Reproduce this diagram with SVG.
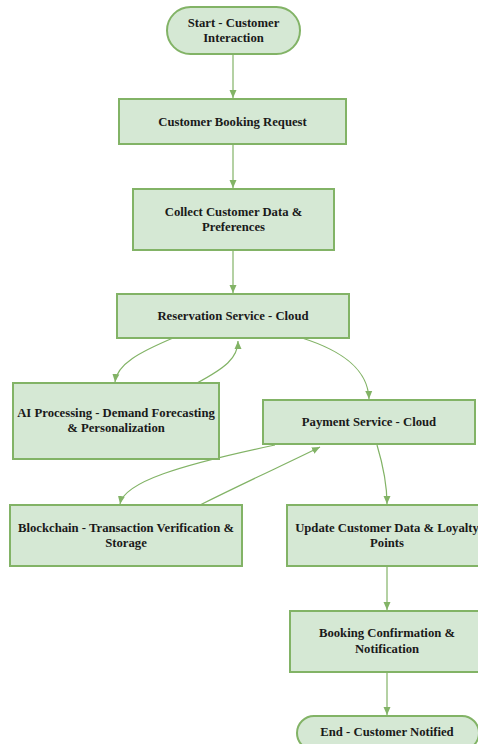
<svg xmlns="http://www.w3.org/2000/svg" width="478" height="744" viewBox="0 0 478 744">
<defs>
<style>
.n{fill:#d5e8d4;stroke:#82b366;stroke-width:2}
.t{font-family:"Liberation Serif","Times New Roman",serif;font-weight:bold;font-size:12.7px;fill:#1a1a1a;text-anchor:middle}
.c{fill:none;stroke:#82b366;stroke-width:1.2}
</style>
<marker id="a" viewBox="0 0 8 8" refX="8" refY="4" markerWidth="8" markerHeight="8" markerUnits="userSpaceOnUse" orient="auto">
<path d="M0,0.5 L8,4 L0,7.5 Z" fill="#82b366"/>
</marker>
</defs>
<rect width="478" height="744" fill="#ffffff"/>
<g id="connectors">
<path class="c" marker-end="url(#a)" d="M233,54 L233,98"/>
<path class="c" marker-end="url(#a)" d="M233,144 L233,188"/>
<path class="c" marker-end="url(#a)" d="M233,250 L233,293"/>
<path class="c" marker-end="url(#a)" d="M173,338 C140,352 117,364 115,382"/>
<path class="c" marker-end="url(#a)" d="M197,383 C225,368 238,358 238,341"/>
<path class="c" marker-end="url(#a)" d="M302,338 C340,350 368,368 369,399"/>
<path class="c" marker-end="url(#a)" d="M275,445 C180,465 124,482 120,504"/>
<path class="c" marker-end="url(#a)" d="M200,505 C250,480 290,462 320,447"/>
<path class="c" marker-end="url(#a)" d="M377,445 C383,465 387,482 387,504"/>
<path class="c" marker-end="url(#a)" d="M387,566 L387,610"/>
<path class="c" marker-end="url(#a)" d="M387,672 L387,715"/>
</g>
<g id="start">
<rect class="n" x="167" y="7" width="133" height="47" rx="23.5"/>
<text class="t" x="233.5" y="27">Start - Customer</text>
<text class="t" x="233.5" y="42">Interaction</text>
</g>
<g id="booking-request">
<rect class="n" x="119" y="99" width="227" height="45"/>
<text class="t" x="232.5" y="126">Customer Booking Request</text>
</g>
<g id="collect-data">
<rect class="n" x="133" y="189" width="201" height="61"/>
<text class="t" x="233.5" y="216">Collect Customer Data &amp;</text>
<text class="t" x="233.5" y="231">Preferences</text>
</g>
<g id="reservation">
<rect class="n" x="117" y="294" width="232" height="44"/>
<text class="t" x="233" y="320">Reservation Service - Cloud</text>
</g>
<g id="ai-processing">
<rect class="n" x="13" y="383" width="206" height="76"/>
<text class="t" x="116" y="417">AI Processing - Demand Forecasting</text>
<text class="t" x="116" y="432">&amp; Personalization</text>
</g>
<g id="payment">
<rect class="n" x="263" y="400" width="212" height="44"/>
<text class="t" x="369" y="426">Payment Service - Cloud</text>
</g>
<g id="blockchain">
<rect class="n" x="10" y="505" width="232" height="61"/>
<text class="t" x="126" y="532">Blockchain - Transaction Verification &amp;</text>
<text class="t" x="126" y="547">Storage</text>
</g>
<g id="update-data">
<rect class="n" x="287" y="505" width="202" height="61"/>
<text class="t" x="387" y="532">Update Customer Data &amp; Loyalty</text>
<text class="t" x="387" y="547">Points</text>
</g>
<g id="confirmation">
<rect class="n" x="290" y="611" width="196" height="61"/>
<text class="t" x="387" y="637">Booking Confirmation &amp;</text>
<text class="t" x="387" y="653">Notification</text>
</g>
<g id="end">
<rect class="n" x="297" y="716" width="182" height="34" rx="17"/>
<text class="t" x="387" y="736">End - Customer Notified</text>
</g>
</svg>
